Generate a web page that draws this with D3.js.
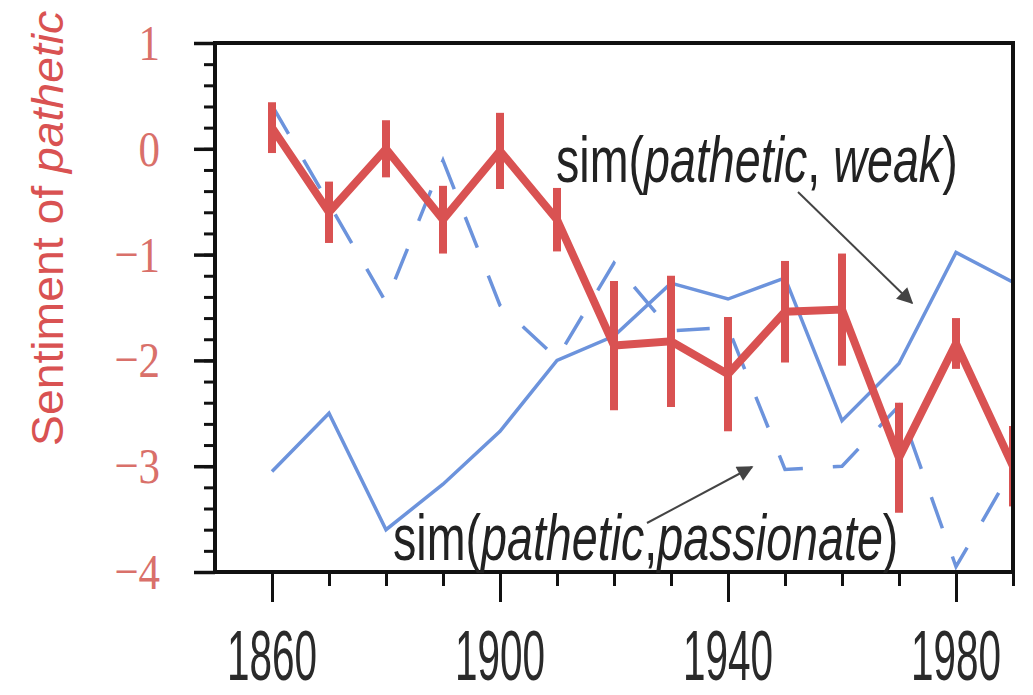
<!DOCTYPE html>
<html>
<head>
<meta charset="utf-8">
<script src="https://cdn.jsdelivr.net/npm/d3@7"></script>
<style>
  body { margin: 0; background: #fff; }
  svg { display: block; }
</style>
</head>
<body>
<svg id="graph"></svg>
<script>
// decades on the x axis
var years = [1860, 1870, 1880, 1890, 1900, 1910, 1920, 1930, 1940, 1950, 1960, 1970, 1980, 1990]
// sentiment of "pathetic" (red, with error bars)
var sentiment = [0.2, -0.6, 0.0, -0.67, -0.02, -0.67, -1.86, -1.82, -2.13, -1.54, -1.52, -2.92, -1.84, -3.0]
var sentimentErr = [0.24, 0.29, 0.27, 0.32, 0.36, 0.3, 0.61, 0.62, 0.54, 0.48, 0.53, 0.52, 0.24, 0.38]
// sim(pathetic, weak) - solid blue
var simWeak = [-3.05, -2.5, -3.6, -3.17, -2.67, -2.0, -1.77, -1.27, -1.42, -1.22, -2.57, -2.03, -0.98, -1.26]
// sim(pathetic, passionate) - dashed blue
var simPassionate = [0.41, -0.52, -1.45, -0.11, -1.48, -1.98, -1.08, -1.72, -1.69, -3.03, -3.0, -2.43, -3.95, -3.02]

var yTicks = [1, 0, -1, -2, -3, -4]
var yMinorTicks = d3.range(-4, 1.001, 0.2)
var xMajorLabels = [1860, 1900, 1940, 1980]

var screen = {width: 1033, height: 695}
var plot = {left: 215, right: 1013, top: 43, bottom: 572}

var red = "#d95252"
var blue = "#6c93dc"
var labelRed = "#d9706a"

var svg = d3.select("#graph")
    .attr("width", screen.width)
    .attr("height", screen.height)

var xScale = d3.scaleLinear()
    .domain([1850, 1990])
    .range([plot.left, plot.right])

var yScale = d3.scaleLinear()
    .domain([-4, 1])
    .range([plot.bottom, plot.top])

svg.append("clipPath")
    .attr("id", "plotclip")
    .append("rect")
    .attr("x", plot.left)
    .attr("y", plot.top)
    .attr("width", plot.right - plot.left)
    .attr("height", plot.bottom - plot.top)

// y axis ticks (outward), labels drawn separately
svg.append("g")
    .attr("transform", "translate(" + plot.left + ",0)")
    .call(d3.axisLeft(yScale).tickValues(yMinorTicks).tickSize(11).tickFormat(""))
    .call(function(g) { g.select(".domain").remove() })
    .selectAll("line").attr("stroke", "#111").attr("stroke-width", 3)

svg.append("g")
    .attr("transform", "translate(" + plot.left + ",0)")
    .call(d3.axisLeft(yScale).tickValues(yTicks).tickSize(21).tickFormat(""))
    .call(function(g) { g.select(".domain").remove() })
    .selectAll("line").attr("stroke", "#111").attr("stroke-width", 3.5)

// x axis ticks
svg.append("g")
    .attr("transform", "translate(0," + plot.bottom + ")")
    .call(d3.axisBottom(xScale).tickValues(years).tickSize(14).tickFormat(""))
    .call(function(g) { g.select(".domain").remove() })
    .selectAll("line").attr("stroke", "#111").attr("stroke-width", 3)

svg.append("g")
    .attr("transform", "translate(0," + plot.bottom + ")")
    .call(d3.axisBottom(xScale).tickValues(xMajorLabels).tickSize(30).tickFormat(""))
    .call(function(g) { g.select(".domain").remove() })
    .selectAll("line").attr("stroke", "#111").attr("stroke-width", 3)

// y tick labels (serif, red)
svg.selectAll(".ylab")
    .data(yTicks)
    .enter()
    .append("text")
    .attr("class", "ylab")
    .attr("transform", function(d) { return "translate(160," + yScale(d) + ") scale(1,1.2)" })
    .attr("dy", "0.33em")
    .attr("text-anchor", "end")
    .style("font-family", "'Liberation Serif', 'DejaVu Serif', serif")
    .attr("font-size", 43)
    .attr("fill", labelRed)
    .text(function(d) { return d < 0 ? "\u2212" + Math.abs(d) : d })

// x tick labels
svg.selectAll(".xlab")
    .data(xMajorLabels)
    .enter()
    .append("text")
    .attr("class", "xlab")
    .attr("transform", function(d) { return "translate(" + xScale(d) + ",680) scale(0.88,1.52)" })
    .attr("text-anchor", "middle")
    .style("font-family", "'Liberation Sans', Arial, sans-serif")
    .attr("font-size", 46)
    .attr("fill", "#2a2a2a")
    .text(function(d) { return d })

// y axis title
var title = svg.append("text")
    .attr("transform", "translate(63,446) rotate(-90) scale(1.03,1)")
    .style("font-family", "'Liberation Sans', Arial, sans-serif")
    .attr("font-size", 45)
    .attr("fill", red)
title.append("tspan").text("Sentiment of ")
title.append("tspan").attr("font-style", "italic").text("pathetic")

// data lines
var lineGen = function(values) {
    return d3.line()
        .x(function(d, i) { return xScale(years[i]) })
        .y(function(d) { return yScale(d) })(values)
}

var lines = svg.append("g").attr("clip-path", "url(#plotclip)")

lines.append("path")
    .attr("d", lineGen(simWeak))
    .attr("fill", "none")
    .attr("stroke", blue)
    .attr("stroke-width", 3.5)
    .attr("stroke-linejoin", "miter")

lines.append("path")
    .attr("d", lineGen(simPassionate))
    .attr("fill", "none")
    .attr("stroke", blue)
    .attr("stroke-width", 3.5)
    .attr("stroke-dasharray", "33,30")

lines.append("path")
    .attr("d", lineGen(sentiment))
    .attr("fill", "none")
    .attr("stroke", red)
    .attr("stroke-width", 8)
    .attr("stroke-linejoin", "miter")

lines.selectAll(".errbar")
    .data(sentiment)
    .enter()
    .append("line")
    .attr("class", "errbar")
    .attr("x1", function(d, i) { return xScale(years[i]) })
    .attr("x2", function(d, i) { return xScale(years[i]) })
    .attr("y1", function(d, i) { return yScale(d + sentimentErr[i]) })
    .attr("y2", function(d, i) { return yScale(d - sentimentErr[i]) })
    .attr("stroke", red)
    .attr("stroke-width", 8)

// frame
svg.append("rect")
    .attr("x", plot.left)
    .attr("y", plot.top)
    .attr("width", plot.right - plot.left)
    .attr("height", plot.bottom - plot.top)
    .attr("fill", "none")
    .attr("stroke", "#111")
    .attr("stroke-width", 4)

// annotations
var defs = svg.append("defs")
defs.append("marker")
    .attr("id", "arrow")
    .attr("viewBox", "0 0 10 10")
    .attr("refX", 9)
    .attr("refY", 5)
    .attr("markerWidth", 20)
    .attr("markerHeight", 16)
    .attr("markerUnits", "userSpaceOnUse")
    .attr("orient", "auto")
    .append("path")
    .attr("d", "M0,0 L10,5 L0,10 Z")
    .attr("fill", "#444")

var annotations = [
    {word: "weak", sep: ", ", x: 556, y: 182, from: [798, 192], to: [912, 303]},
    {word: "passionate", sep: ",", x: 393, y: 560, from: [647, 523], to: [752, 467]}
]

annotations.forEach(function(a) {
    svg.append("line")
        .attr("x1", a.from[0]).attr("y1", a.from[1])
        .attr("x2", a.to[0]).attr("y2", a.to[1])
        .attr("stroke", "#444")
        .attr("stroke-width", 2)
        .attr("marker-end", "url(#arrow)")

    var t = svg.append("text")
        .attr("transform", "translate(" + a.x + "," + a.y + ") scale(1.06,1.48)")
        .style("font-family", "'Liberation Sans', Arial, sans-serif")
        .attr("font-size", 44)
        .attr("fill", "#222")
    t.append("tspan").text("sim(")
    t.append("tspan").attr("font-style", "italic").text("pathetic")
    t.append("tspan").text(a.sep)
    t.append("tspan").attr("font-style", "italic").text(a.word)
    t.append("tspan").text(")")
})
</script>
</body>
</html>
